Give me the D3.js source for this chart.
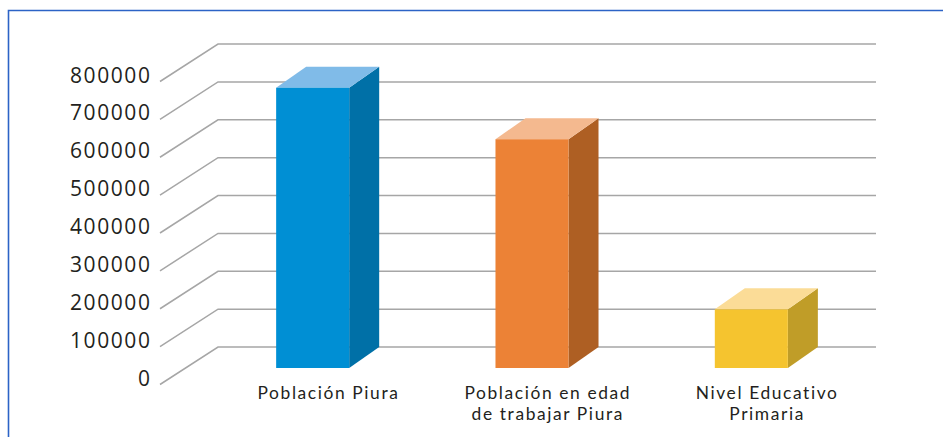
<!DOCTYPE html>
<html><head><meta charset="utf-8">
<script src="https://cdn.jsdelivr.net/npm/d3@7"></script>
<style>html,body{margin:0;padding:0;background:#fff;overflow:hidden}</style>
</head><body>
<svg id="chart" width="943" height="437"></svg>
<script>
const categories = [["Población Piura"], ["Población en edad", "de trabajar Piura"], ["Nivel Educativo", "Primaria"]];
const values = [740000, 604000, 155000];
const tickValues = [0, 100000, 200000, 300000, 400000, 500000, 600000, 700000, 800000];
const faceColors = ["#008fd4", "#ec8236", "#f5c42f"];
const topColors = ["#80bbe8", "#f4b98f", "#fbdc97"];
const sideColors = ["#0070a7", "#ae5f23", "#c09d28"];

const svg = d3.select("#chart");
const font = "'Open Sans', sans-serif";

// frame
svg.append("path").attr("d", "M8.5,437 L8.5,10.5 L943,10.5")
  .attr("fill", "none").attr("stroke", "#2c63c6").attr("stroke-width", 1.6);

const backLeft = 218, backRight = 876;
const y = d3.scaleLinear().domain([0, 800000]).range([347, 44]);
const x = d3.scaleBand().domain(d3.range(categories.length)).range([backLeft, backRight]);
const depthX = 58, depthY = 37.5;

// gridlines (wall + floor-edge diagonals)
const grid = svg.append("g");
const tickLS = 1.6;
tickValues.forEach(t => {
  const yb = y(t);
  grid.append("path")
    .attr("d", `M${backLeft - depthX},${yb + depthY} L${backLeft},${yb} L${backRight},${yb}`)
    .attr("fill", "none").attr("stroke", "#a6a6a6").attr("stroke-width", 1.5);
  svg.append("text").attr("x", 150 + tickLS).attr("y", yb + depthY - 7)
    .attr("text-anchor", "end").attr("dominant-baseline", "central")
    .attr("font-family", font).attr("font-size", 21).attr("letter-spacing", tickLS).attr("fill", "#231f20")
    .text(t);
});

// bars
const barW = x.bandwidth() * 0.333, bdx = 30, bdy = 21;
const labLS = 1.6;
values.forEach((v, i) => {
  const c = x(i) + x.bandwidth() / 2;
  const fx0 = c - bdx / 2 - barW / 2, fx1 = fx0 + barW;
  const fTop = y(v) + bdy, fBot = y(0) + bdy;
  const g = svg.append("g");
  g.append("path").attr("d", `M${fx1},${fTop} L${fx1 + bdx},${fTop - bdy} L${fx1 + bdx},${fBot - bdy} L${fx1},${fBot} Z`)
    .attr("fill", sideColors[i]);
  g.append("path").attr("d", `M${fx0},${fTop} L${fx0 + bdx},${fTop - bdy} L${fx1 + bdx},${fTop - bdy} L${fx1},${fTop} Z`)
    .attr("fill", topColors[i]);
  g.append("rect").attr("x", fx0).attr("y", fTop).attr("width", barW).attr("height", fBot - fTop)
    .attr("fill", faceColors[i]);
  categories[i].forEach((line, k) => {
    svg.append("text").attr("text-anchor", "middle")
      .attr("font-family", "Lato, sans-serif").attr("font-size", 17.4).attr("letter-spacing", labLS).attr("fill", "#231f20")
      .attr("x", c + labLS / 2).attr("y", 392 + k * 21).attr("dominant-baseline", "central").text(line);
  });
});
</script>
</body></html>
